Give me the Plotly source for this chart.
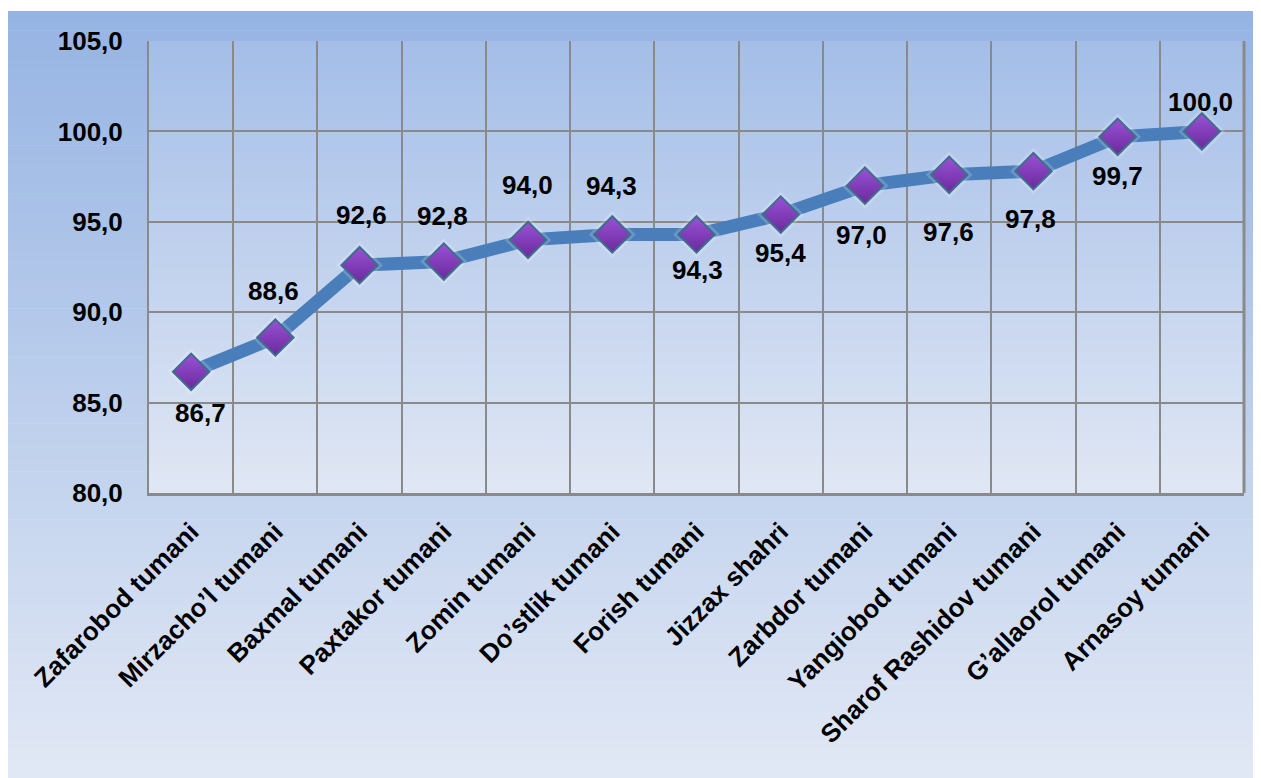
import plotly.graph_objects as go

# ---- data ----
categories = ["Zafarobod tumani", "Mirzacho’l tumani", "Baxmal tumani", "Paxtakor tumani",
              "Zomin tumani", "Do’stlik tumani", "Forish tumani", "Jizzax shahri",
              "Zarbdor tumani", "Yangiobod tumani", "Sharof Rashidov tumani",
              "G’allaorol tumani", "Arnasoy tumani"]
values = [86.7, 88.6, 92.6, 92.8, 94.0, 94.3, 94.3, 95.4, 97.0, 97.6, 97.8, 99.7, 100.0]
y_ticks = [80, 85, 90, 95, 100, 105]

# label placement (pixel offsets, style only)
label_dy = [41, -47, -50, -46, -55, -48, 36, 38, 49, 57, 48, 39, -29]
label_dx = [9, -2, 2, -1, -1, -1, 1, 0, -3, -1, -3, 0, -1]

# figure is placed at page (8, 8) by the browser's body margin
W, H = 1261, 778
L, T = 141, 33
R = W - 1236
B = H - 485
pw, ph = W - L - R, H - T - B

def px2paper_x(px):
    return (px - L) / pw

def py2paper_y(py):
    return (H - B - py) / ph

def lerp(c1, c2, t):
    return "rgb(%d,%d,%d)" % tuple(round(a + (b - a) * t) for a, b in zip(c1, c2))

shapes = []
# outer chart area gradient
N = 80
top_c, bot_c = (150, 180, 227), (225, 232, 245)
y0p, y1p = 3, 770
for i in range(N):
    a = y0p + (y1p - y0p) * i / N
    b = y0p + (y1p - y0p) * (i + 1) / N + 0.6
    if i == N - 1:
        b = H
    shapes.append(dict(type="rect", xref="paper", yref="paper", layer="below",
                       x0=px2paper_x(0), x1=px2paper_x(W + 2),
                       y0=py2paper_y(a), y1=py2paper_y(b),
                       fillcolor=lerp(top_c, bot_c, i / (N - 1)), line_width=0))
# plot area gradient
ptop, pbot = (164, 190, 232), (224, 231, 244)
for i in range(N):
    a = i / N
    b = (i + 1) / N + 0.002
    shapes.append(dict(type="rect", xref="paper", yref="paper", layer="below",
                       x0=0, x1=1, y0=1 - a, y1=max(1 - b, 0),
                       fillcolor=lerp(ptop, pbot, i / (N - 1)), line_width=0))
# right border
shapes.append(dict(type="line", xref="paper", yref="paper", x0=1, x1=1, y0=0, y1=1,
                   line=dict(color="#8a8a8a", width=3)))

fig = go.Figure()
fig.add_trace(go.Scatter(
    x=categories, y=values, mode="lines",
    line=dict(color="#4a7ebb", width=13), hoverinfo="skip", showlegend=False))
fig.add_trace(go.Scatter(
    x=categories, y=values, mode="markers",
    marker=dict(symbol="diamond", size=36, color="rgba(255,255,255,0.18)",
                line=dict(width=0)), hoverinfo="skip", showlegend=False))
fig.add_trace(go.Scatter(
    x=categories, y=values, mode="markers",
    marker=dict(symbol="diamond", size=28, color="#9a52d6",
                gradient=dict(type="vertical", color="#6a2a9c"),
                line=dict(color="#3f6d8c", width=2)),
    showlegend=False))

annotations = []
for c, v, dy, dx in zip(categories, values, label_dy, label_dx):
    annotations.append(dict(x=c, y=v, xref="x", yref="y",
                            text=("%.1f" % v).replace(".", ","),
                            showarrow=False, yshift=-dy, xshift=dx,
                            font=dict(family="Liberation Sans, Arial", size=26,
                                      color="black", weight="bold")))

fig.update_layout(
    width=W, height=H,
    margin=dict(l=L, r=R, t=T, b=B),
    paper_bgcolor="white", plot_bgcolor="rgba(0,0,0,0)",
    separators=", ",
    shapes=shapes, annotations=annotations,
    xaxis=dict(type="category", tickson="boundaries", showgrid=True,
               gridcolor="#8a8a8a", gridwidth=2, showline=True, linecolor="#8a8a8a",
               linewidth=3, tickangle=-45, ticks="", ticklabelstandoff=10,
               range=[-0.5, 12.5],
               tickfont=dict(family="Liberation Sans, Arial", size=26, color="black",
                             weight="bold")),
    yaxis=dict(range=[80, 105], tickvals=y_ticks, tickformat=".1f", showgrid=True,
               gridcolor="#8a8a8a", gridwidth=2, showline=True, linecolor="#8a8a8a",
               linewidth=2, zeroline=False, ticks="", ticklabelstandoff=19,
               tickfont=dict(family="Liberation Sans, Arial", size=26, color="black",
                             weight="bold")),
)

fig.write_html("out.html")
